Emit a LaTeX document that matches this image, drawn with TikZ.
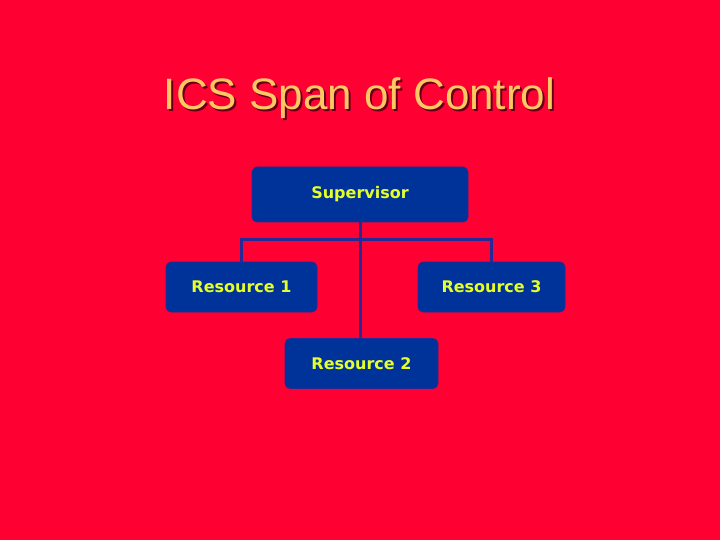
\documentclass[tikz,border=0pt]{standalone}
\usepackage{fontspec}
\setmainfont{Liberation Sans}
\newfontfamily\boxfont{DejaVu Sans}
\usepackage{tikz}
\usetikzlibrary{positioning}

\definecolor{slidered}{RGB}{255,0,51}
\definecolor{boxblue}{RGB}{0,51,153}
\definecolor{edgeblue}{RGB}{40,40,150}
\definecolor{labelyellow}{RGB}{230,255,40}
\definecolor{titleorange}{RGB}{255,200,100}

\tikzset{
  orgbox/.style={draw=edgeblue,line width=0.8pt,fill=boxblue,rounded corners=5pt,
    text=labelyellow,font=\boxfont\bfseries\fontsize{16}{19}\selectfont,
    minimum height=50pt,inner sep=0pt},
  link/.style={edgeblue,line width=3pt}
}

\begin{document}
\begin{tikzpicture}[x=1pt,y=-1pt]
\fill[slidered] (0,0) rectangle (720,540);
\useasboundingbox (0,0) rectangle (720,540);
% title with shadow
\node[text=black!60!slidered,font=\fontsize{44}{50}\selectfont] at (361.5,100.5) {ICS Span of Control};
\node[text=titleorange,font=\fontsize{44}{50}\selectfont] (title) at (359.5,98.5) {ICS Span of Control};
% boxes
\node[orgbox,minimum width=216pt,minimum height=55pt] (sup) at (360,194.5) {Supervisor};
\node[orgbox,minimum width=151pt] (resA) at (241.5,287) {Resource 1};
\node[orgbox,minimum width=153pt] (resB) at (361.5,363.5) {Resource 2};
\node[orgbox,minimum width=147pt] (resC) at (491.5,287) {Resource 3};
% connectors
\coordinate (bus) at (360,239);
\draw[link] (sup.south -| bus) -- (resB.north -| bus);
\draw[link] (resA.north) -- (resA.north |- bus) -- (resC.north |- bus) -- (resC.north);
\end{tikzpicture}
\end{document}
